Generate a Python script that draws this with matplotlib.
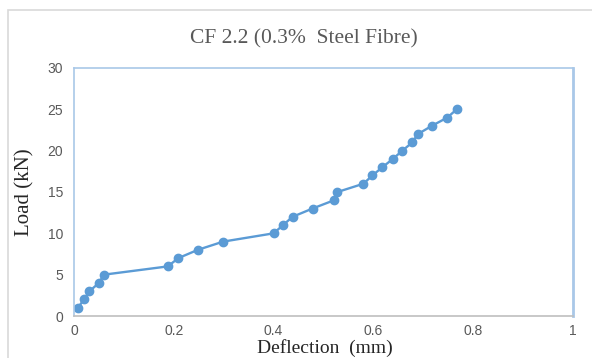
import matplotlib.pyplot as plt
from matplotlib.patches import Rectangle

# data
deflection = [0.008, 0.02, 0.031, 0.05, 0.06, 0.188, 0.209, 0.248, 0.299, 0.40,
              0.419, 0.438, 0.478, 0.521, 0.528, 0.580, 0.598, 0.618, 0.639,
              0.658, 0.678, 0.689, 0.717, 0.748, 0.767]
load = [1, 2, 3, 4, 5, 6, 7, 8, 9, 10, 11, 12, 13, 14, 15, 16, 17, 18, 19,
        20, 21, 22, 23, 24, 25]
xticks = [0, 0.2, 0.4, 0.6, 0.8, 1]
yticks = [0, 5, 10, 15, 20, 25, 30]

blue = '#5B9BD5'
grey = '#595959'

fig = plt.figure(figsize=(5.92, 3.58), dpi=100)
ax = fig.add_axes([74/592, 42/358, 499/592, 248/358])

# outer chart border (cropped at right and bottom)
fig.patches.append(Rectangle((8/592, -0.1), 1.2, (348/358) + 0.1, transform=fig.transFigure,
                             fill=False, edgecolor='#d9d9d9', linewidth=1.2, clip_on=False))

ax.plot(deflection, load, color=blue, linewidth=1.7, marker='o', markersize=6,
        markerfacecolor=blue, markeredgecolor=blue)

ax.set_xlim(0, 1)
ax.set_ylim(0, 30)
ax.set_xticks(xticks)
ax.set_xticklabels(['0', '0.2', '0.4', '0.6', '0.8', '1'])
ax.set_yticks(yticks)
ax.tick_params(length=0, labelsize=10, labelcolor=grey, pad=8)
ax.tick_params(axis='x', pad=6)
for lab in ax.get_xticklabels() + ax.get_yticklabels():
    lab.set_family('Liberation Sans')

for s in ('top', 'right', 'left'):
    ax.spines[s].set_color('#a9c8e8')
    ax.spines[s].set_linewidth(1.2)
ax.spines['right'].set_linewidth(2.0)
ax.spines['bottom'].set_color('#bfbfbf')
ax.spines['bottom'].set_linewidth(1.2)

fig.text(304/592, (358-39)/358, 'CF 2.2 (0.3%  Steel Fibre)', ha='center', va='center',
         fontsize=15.5, family='Liberation Serif', color=grey)
fig.text(25/592, (358-192)/358, 'Load (kN)', ha='center', va='center', rotation=90,
         fontsize=15, family='Liberation Serif', color='#262626')
fig.text(325/592, (358-348)/358, 'Deflection  (mm)', ha='center', va='center',
         fontsize=14, family='Liberation Serif', color='#262626')

fig.savefig('out.png', dpi=100)
